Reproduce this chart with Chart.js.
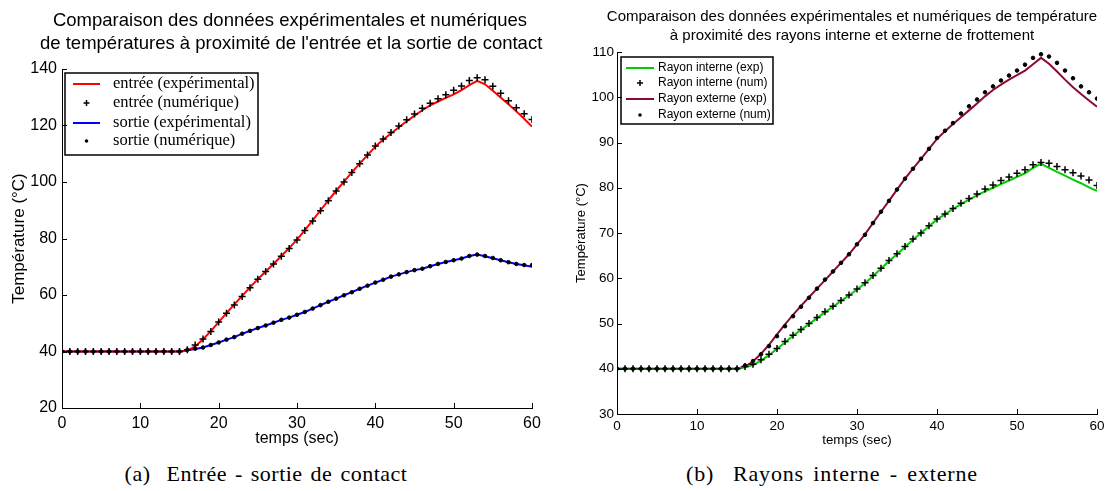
<!DOCTYPE html>
<html>
<head>
<meta charset="utf-8">
<script src="https://cdn.jsdelivr.net/npm/chart.js@4.4.0/dist/chart.umd.min.js"></script>
<style>
body{margin:0;background:#fff;width:1109px;height:491px;position:relative;overflow:hidden}
canvas{position:absolute;top:0}
.titre{position:absolute;font-family:"Liberation Sans",Arial,sans-serif;color:#000;text-align:center;white-space:nowrap}
.legende{position:absolute;top:461px;font-family:"Liberation Serif",serif;font-size:22px;letter-spacing:0.5px;word-spacing:2px;color:#000;text-align:center;white-space:nowrap}
</style>
</head>
<body>
<canvas id="gauche" width="560" height="455" style="left:0"></canvas>
<canvas id="droite" width="549" height="455" style="left:560px"></canvas>
<div class="titre" style="left:40px;width:500px;top:8px;font-size:18.5px;line-height:23.3px">Comparaison des données expérimentales et numériques<br>de températures à proximité de l'entrée et la sortie de contact</div>
<div class="titre" style="left:592px;width:520px;top:6px;font-size:15px;line-height:19.3px">Comparaison des données expérimentales et numériques de température<br>à proximité des rayons interne et externe de frottement</div>
<div class="legende" style="left:116px;width:300px">(a)&nbsp; Entrée - sortie de contact</div>
<div class="legende" style="left:682px;width:300px;letter-spacing:0.85px;word-spacing:3px">(b)&nbsp; Rayons interne - externe</div>
<script>
// temps (s), un point par seconde
var temps = [0,1,2,3,4,5,6,7,8,9,10,11,12,13,14,15,16,17,18,19,20,21,22,23,24,25,26,27,28,29,30,
	31,32,33,34,35,36,37,38,39,40,41,42,43,44,45,46,47,48,49,50,51,52,53,54,55,56,57,58,59,60];

// figure (a) : entrée / sortie de contact
var entreeExp = [40,40,40,40,40,40,40,40,40,40,40,40,40,40,40,40,40.3,41.8,44.3,47.2,50.4,53.6,56.7,59.7,62.7,65.6,68.3,71.0,73.8,76.6,79.6,
	83.0,86.4,90.0,93.5,96.9,100.1,103.4,106.5,109.5,112.5,115.0,117.2,119.4,121.5,123.5,125.4,127.1,128.5,129.8,131.0,132.5,134.3,135.8,134.6,132.3,129.9,127.5,125.0,122.4,119.6];
var entreeNum = [40,40,40,40,40,40,40,40,40,40,40,40,40,40,40,40,40.6,42.3,44.4,47.1,50.4,53.5,56.5,59.5,62.6,65.6,68.3,71.0,73.7,76.5,79.5,
	82.8,86.2,89.8,93.4,96.8,100.0,103.4,106.5,109.6,112.7,115.2,117.5,119.8,122.0,124.1,126.1,127.9,129.5,130.9,132.5,134.0,135.9,136.9,136.2,133.9,131.4,128.8,126.3,124.2,122.1];
var sortieExp = [40,40,40,40,40,40,40,40,40,40,40,40,40,40,40,40,40.4,40.9,41.4,42.3,43.2,44.2,45.1,46.3,47.3,48.3,49.2,50.2,51.2,52.0,53.0,
	54.0,55.2,56.4,57.6,58.7,59.9,61.0,62.2,63.3,64.4,65.4,66.5,67.3,68.1,68.8,69.3,70.2,71.0,71.7,72.3,72.9,73.8,74.3,73.7,73.0,72.3,71.6,71.0,70.5,70.0];
var sortieNum = [40,40,40,40,40,40,40,40,40,40,40,40,40,40,40,40,40.6,41.0,41.4,42.3,43.2,44.2,45.1,46.3,47.3,48.3,49.2,50.2,51.2,52.0,53.0,
	54.0,55.2,56.4,57.6,58.7,59.9,61.0,62.2,63.3,64.4,65.4,66.5,67.3,68.1,68.8,69.3,70.2,71.0,71.7,72.3,72.9,73.8,74.3,73.8,73.1,72.3,71.6,71.0,70.6,70.6];

// figure (b) : rayons interne / externe
var interneExp = [40,40,40,40,40,40,40,40,40,40,40,40,40,40,40,40,40.3,40.8,41.8,43.0,44.4,45.8,47.3,48.6,49.9,51.2,52.5,53.7,55.0,56.2,57.5,
	58.9,60.5,62.1,63.8,65.3,66.9,68.5,70.0,71.5,73.0,74.1,75.3,76.4,77.4,78.3,79.2,80.0,80.8,81.6,82.4,83.2,84.4,85.3,84.4,83.5,82.7,81.8,81.0,80.1,79.3];
var interneNum = [40,40,40,40,40,40,40,40,40,40,40,40,40,40,40,40,40.5,41.0,42.0,43.2,44.5,46.0,47.4,48.7,50.0,51.3,52.6,53.8,55.1,56.3,57.6,
	59.0,60.6,62.2,63.9,65.4,67.0,68.7,70.0,71.6,73.1,74.2,75.4,76.6,77.6,78.6,79.7,80.6,81.6,82.4,83.2,84.0,85.1,85.6,85.4,84.7,84.0,83.3,82.6,81.7,80.5];
var externeExp = [40,40,40,40,40,40,40,40,40,40,40,40,40,40,40,40,40.5,41.6,43.3,45.3,47.6,49.8,51.9,53.9,55.8,57.7,59.6,61.5,63.4,65.3,67.5,
	69.7,72.2,74.7,77.1,79.6,82.0,84.2,86.4,88.6,90.8,92.5,94.1,95.6,97.1,98.6,100.2,101.6,102.8,103.9,104.9,105.9,107.3,108.7,107.4,105.7,103.9,102.2,100.7,99.3,97.9];
var externeNum = [40,40,40,40,40,40,40,40,40,40,40,40,40,40,40,40,40.7,41.7,43.2,45.0,47.2,49.4,51.6,53.7,55.7,57.7,59.7,61.5,63.4,65.3,67.5,
	69.6,72.2,74.7,77.1,79.6,82.0,84.2,86.4,88.6,91.0,92.6,94.3,96.4,98.0,99.5,101.1,102.4,103.7,104.8,105.9,107.2,108.7,109.5,109.0,107.6,105.9,104.2,102.4,101.1,99.7];

function points(vals) {
	return temps.map(function(t, i) { return {x: t, y: vals[i]}; });
}

function courbe(label, vals, couleur) {
	return {label: label, data: points(vals), showLine: true, borderColor: couleur, backgroundColor: couleur,
		borderWidth: 2, pointRadius: 0, tension: 0, order: 1};
}

function marqueurs(label, vals, style) {
	return {label: label, data: points(vals), showLine: false, pointStyle: style,
		pointRadius: style == 'cross' ? 3.5 : 1.8, borderColor: '#000', backgroundColor: '#000',
		borderWidth: style == 'cross' ? 1.5 : 1, pointHoverRadius: 0, order: 0};
}

// légende encadrée dans la zone de tracé, façon matlab
var cadreLegende = {
	id: 'cadreLegende',
	afterDraw: function(chart, args, o) {
		var ctx = chart.ctx;
		ctx.save();
		ctx.fillStyle = '#fff';
		ctx.fillRect(o.x, o.y, o.w, o.h);
		ctx.lineWidth = 1.5;
		ctx.strokeStyle = '#000';
		ctx.strokeRect(o.x, o.y, o.w, o.h);
		ctx.font = o.font;
		ctx.textBaseline = 'middle';
		chart.data.datasets.forEach(function(ds, i) {
			var y = o.rows[i], xc = (o.x1 + o.x2) / 2;
			if (ds.showLine) {
				ctx.strokeStyle = ds.borderColor;
				ctx.lineWidth = 2;
				ctx.beginPath(); ctx.moveTo(o.x1, y); ctx.lineTo(o.x2, y); ctx.stroke();
			} else if (ds.pointStyle == 'cross') {
				ctx.strokeStyle = '#000';
				ctx.lineWidth = 1.5;
				ctx.beginPath(); ctx.moveTo(xc - 3, y); ctx.lineTo(xc + 3, y);
				ctx.moveTo(xc, y - 3); ctx.lineTo(xc, y + 3); ctx.stroke();
			} else {
				ctx.fillStyle = '#000';
				ctx.beginPath(); ctx.arc(xc, y, 1.8, 0, Math.PI * 2); ctx.fill();
			}
			ctx.fillStyle = '#000';
			ctx.fillText(ds.label, o.tx, y);
		});
		ctx.restore();
	}
};

// graduations vers l'intérieur
var graduations = {
	id: 'graduations',
	afterDraw: function(chart) {
		var ctx = chart.ctx, a = chart.chartArea, sx = chart.scales.x, sy = chart.scales.y;
		ctx.save();
		ctx.strokeStyle = '#000';
		ctx.lineWidth = 1;
		ctx.beginPath();
		sx.ticks.forEach(function(t) {
			var p = Math.round(sx.getPixelForValue(t.value)) + 0.5;
			ctx.moveTo(p, a.bottom); ctx.lineTo(p, a.bottom - 5);
		});
		sy.ticks.forEach(function(t) {
			var p = Math.round(sy.getPixelForValue(t.value)) + 0.5;
			ctx.moveTo(a.left, p); ctx.lineTo(a.left + 5, p);
		});
		ctx.stroke();
		ctx.restore();
	}
};

function options(r) {
	return {
		responsive: false,
		animation: false,
		events: [],
		layout: {padding: {left: 0, right: r.padRight, top: r.padTop, bottom: 0}},
		plugins: {
			legend: {display: false},
			tooltip: {enabled: false},
			title: {display: false},
			cadreLegende: r.legende
		},
		scales: {
			x: {type: 'linear', min: 0, max: 60,
				ticks: {stepSize: 10, color: '#000', padding: r.padX, maxRotation: 0,
					font: {family: 'Liberation Sans', size: r.tailleGrad}},
				grid: {drawOnChartArea: false, drawTicks: false},
				border: {color: '#000', width: 1},
				title: {display: true, text: 'temps (sec)', color: '#000',
					font: {family: 'Liberation Sans', size: r.tailleAxe}, padding: {top: 0, bottom: r.titreXBas}},
				afterFit: function(s) { s.height = r.hautX; }
			},
			y: {min: r.ymin, max: r.ymax,
				ticks: {stepSize: r.pas, color: '#000', padding: r.padY,
					font: {family: 'Liberation Sans', size: r.tailleGrad}},
				grid: {drawOnChartArea: false, drawTicks: false},
				border: {color: '#000', width: 1},
				title: {display: true, text: 'Température (°C)', color: '#000',
					font: {family: 'Liberation Sans', size: r.tailleAxeY}, padding: {top: r.titreYGauche, bottom: 0}},
				afterFit: function(s) { s.width = r.largeY; }
			}
		}
	};
}

new Chart(document.getElementById('gauche'), {
	type: 'scatter',
	data: {datasets: [
		courbe('entrée (expérimental)', entreeExp, '#ff0000'),
		marqueurs('entrée (numérique)', entreeNum, 'cross'),
		courbe('sortie (expérimental)', sortieExp, '#0000ff'),
		marqueurs('sortie (numérique)', sortieNum, 'circle')
	]},
	options: options({
		padTop: 69, padRight: 28, hautX: 47, largeY: 62, padX: 6, padY: 5,
		tailleGrad: 16, tailleAxe: 16, tailleAxeY: 17, titreXBas: 6.4, titreYGauche: 8.8,
		ymin: 20, ymax: 140, pas: 20,
		legende: {x: 65, y: 73, w: 193, h: 82, x1: 73, x2: 100, tx: 113,
			rows: [84, 103, 123, 141], font: '16.5px "Liberation Serif"'}
	}),
	plugins: [cadreLegende, graduations]
});

new Chart(document.getElementById('droite'), {
	type: 'scatter',
	data: {datasets: [
		courbe('Rayon interne (exp)', interneExp, '#00cc00'),
		marqueurs('Rayon interne (num)', interneNum, 'cross'),
		courbe('Rayon externe (exp)', externeExp, '#8a0c2c'),
		marqueurs('Rayon externe (num)', externeNum, 'circle')
	]},
	options: options({
		padTop: 52, padRight: 12, hautX: 41, largeY: 57, padX: 4, padY: 3,
		tailleGrad: 13.5, tailleAxe: 13.3, tailleAxeY: 13, titreXBas: 7, titreYGauche: 14,
		ymin: 30, ymax: 110, pas: 10,
		legende: {x: 61, y: 57, w: 152, h: 67, x1: 66, x2: 94, tx: 98,
			rows: [68, 83, 99, 115], font: '12px "Liberation Sans"'}
	}),
	plugins: [cadreLegende, graduations]
});
</script>
</body>
</html>
